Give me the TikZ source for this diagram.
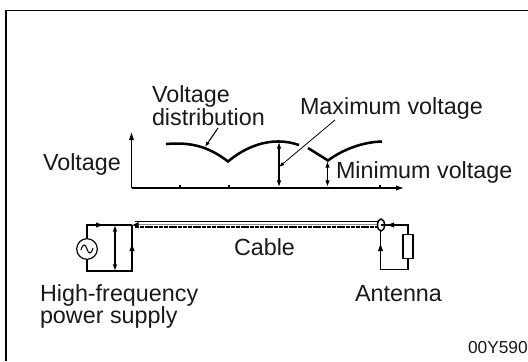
\documentclass[tikz,border=0pt]{standalone}
\usepackage{fontspec}
\setmainfont{Liberation Sans}
\usetikzlibrary{arrows.meta}
\tikzset{
  lbl/.style={inner sep=0pt,outer sep=0pt,anchor=base west,align=left,font=\fontsize{17.5}{19}\selectfont,text=black!90},
  thin wire/.style={line width=0.8pt,black},
  curve/.style={line width=1.9pt,black},
  tipped/.style={line width=0.8pt,black,{Latex[length=5pt,width=3.5pt]}-{Latex[length=5pt,width=3.5pt]}},
  midarrow/.style={-{Latex[length=6pt,width=4pt]},line width=0.8pt}
}
\begin{document}
\begin{tikzpicture}[x=0.75pt,y=-0.75pt]
\useasboundingbox (0,0) rectangle (528,361);
% frame
\draw[line width=1.4pt] (528,10.5) -- (6,10.5) -- (6,361);
% labels
\node[lbl] (tv) at (152,102) {Voltage};
\node[lbl] (td) at (152,125) {distribution};
\node[lbl] (tmax) at (300,114) {Maximum voltage};
\node[lbl] (tvolt) at (43,170) {Voltage};
\node[lbl] (tmin) at (336,178) {Minimum voltage};
\node[lbl] (tc) at (234,255) {Cable};
\node[lbl] (th1) at (40,301) {High-frequency};
\node[lbl] (th2) at (40,323) {power supply};
\node[lbl] (ta) at (355,301) {Antenna};
\node[lbl,font=\fontsize{13}{14}\selectfont] (tcode) at (468,353) {00Y590};
% axes
\coordinate (o) at (131.5,188);
\coordinate (ytop) at (131.5,132);
\coordinate (xend) at (404,188);
\draw[midarrow] (o) -- (ytop);
\draw[midarrow] (o) -- (xend);
\foreach \x in {180,229,380} \draw[thin wire] (\x,188) -- (\x,185);
% voltage curve
\coordinate (c0) at (166,144);
\coordinate (c1) at (228,161.5);
\coordinate (c2) at (299,145);
\coordinate (c3) at (308,148);
\coordinate (c4) at (328,160.5);
\coordinate (c5) at (382,141.5);
\draw[curve] (c0) .. controls (190,142) and (208,146) .. (c1)
  .. controls (244,148) and (270,135) .. (c2);
\draw[curve] (c3) -- (c4) .. controls (342,150) and (362,142) .. (c5);
% arrows
\coordinate (m1) at (279,142);
\coordinate (m0) at (279,187);
\coordinate (n1) at (327.5,161);
\coordinate (n0) at (327.5,187);
\draw[tipped] (m1) -- (m0);
\draw[tipped,line width=1.3pt] (n1) -- (n0);
% leaders
\coordinate (la) at (218,128);
\coordinate (lb) at (205,147);
\coordinate (lc) at (335,120);
\coordinate (ld) at (279,167);
\draw[thin wire,-{Latex[length=4pt,width=3pt]}] (la) -- (lb);
\draw[line width=0.6pt,-{Latex[length=4pt,width=3pt]}] (lc) -- (ld);
% cable
\coordinate (cl) at (132,225);
\coordinate (cr) at (381,225);
\draw[line width=1pt] (135,221.5) -- (379,221.5);
\draw[line width=1.5pt,black,dash pattern=on 3pt off 0.6pt] (135,227) -- (379,227);
\draw[line width=0.5pt,black!45] (135,224.5) -- (379,224.5);
\draw[line width=1.1pt,fill=white] (cr) ellipse [x radius=3.5,y radius=6];
% source circuit
\node[draw,circle,line width=0.9pt,minimum size=15.5pt,inner sep=0pt] (src) at (87,249) {};
\draw[line width=0.8pt] (81,250) .. controls (83,243) and (85.5,244) .. (87,249) .. controls (88.5,254) and (91,255) .. (93,248);
\coordinate (lt) at (87,225);
\coordinate (lb2) at (87,271);
\coordinate (rb) at (132,271);
\coordinate (mt) at (115,225);
\coordinate (mb) at (115,271);
\draw[thin wire] (src) -- (lt) -- (cl);
\draw[thin wire] (src) -- (lb2) -- (rb) -- (cl);
\draw[tipped,line width=0.9pt] (mt) -- (mb);
\draw[midarrow] (92,225) -- (104,225);
\draw[midarrow] (132,258) -- (132,243);
\draw[-{Latex[length=5pt,width=5pt]},line width=0.8pt] (137,225) -- (cl);
% load circuit
\node[draw,line width=0.9pt,minimum width=7.5pt,minimum height=17.5pt,inner sep=0pt] (res) at (408,246.5) {};
\coordinate (rt) at (408,225);
\coordinate (rbb) at (408,269.5);
\coordinate (lbb) at (380.5,269.5);
\draw[thin wire] (cr) -- (rt) -- (res);
\draw[thin wire] (res) -- (rbb) -- (lbb) -- (380.5,231);
\draw[midarrow] (398,225) -- (386,225);
\draw[midarrow] (380.5,258) -- (380.5,243);
\end{tikzpicture}
\end{document}
